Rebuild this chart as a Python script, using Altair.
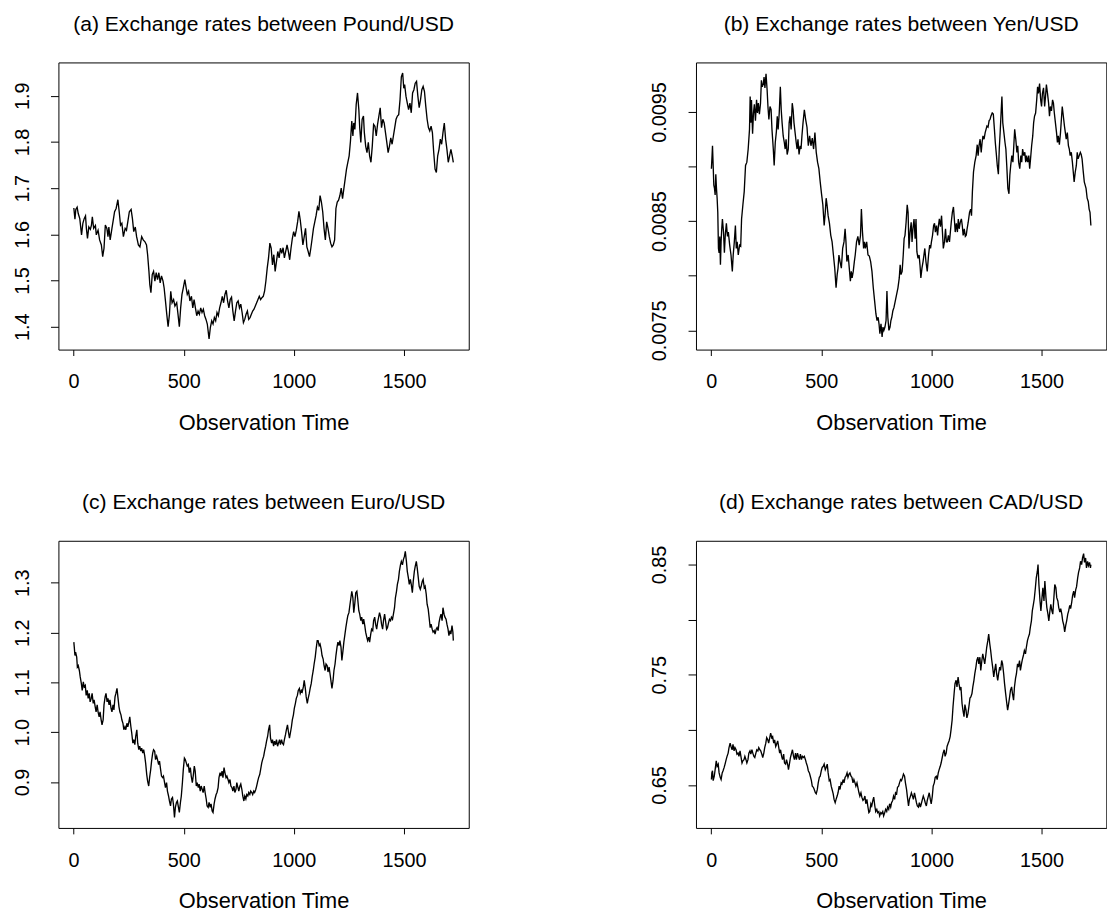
import altair as alt
import pandas as pd

# (observation time, exchange rate) pairs for each currency against the US dollar
POUND = [
    (1, 1.657), (6, 1.633), (10, 1.654), (16, 1.659), (21, 1.645), (28, 1.634), (36, 1.599), (42, 1.624),
    (48, 1.634), (54, 1.640), (58, 1.613), (63, 1.591), (69, 1.616), (76, 1.611), (81, 1.620), (85, 1.638),
    (91, 1.613), (99, 1.619), (103, 1.599), (111, 1.609), (118, 1.588), (126, 1.577), (132, 1.552), (138, 1.570),
    (144, 1.620), (151, 1.613), (156, 1.595), (160, 1.616), (166, 1.588), (174, 1.613), (180, 1.631), (186, 1.649),
    (193, 1.656), (201, 1.675), (207, 1.649), (213, 1.620), (219, 1.624), (226, 1.595), (234, 1.613), (240, 1.609),
    (246, 1.627), (253, 1.649), (261, 1.654), (267, 1.634), (273, 1.606), (280, 1.616), (286, 1.595), (294, 1.577),
    (301, 1.573), (309, 1.595), (316, 1.588), (324, 1.584), (331, 1.577), (336, 1.556), (342, 1.520), (346, 1.491),
    (351, 1.474), (357, 1.513), (363, 1.520), (369, 1.499), (375, 1.517), (381, 1.502), (387, 1.517), (393, 1.495),
    (399, 1.510), (406, 1.499), (411, 1.484), (417, 1.456), (423, 1.427), (429, 1.400), (435, 1.427), (441, 1.477),
    (447, 1.452), (454, 1.459), (460, 1.445), (468, 1.452), (474, 1.427), (480, 1.400), (486, 1.441), (492, 1.470),
    (498, 1.484), (505, 1.502), (511, 1.484), (516, 1.470), (522, 1.477), (528, 1.456), (535, 1.466), (541, 1.441),
    (547, 1.459), (553, 1.441), (559, 1.424), (565, 1.434), (571, 1.427), (577, 1.441), (583, 1.431), (589, 1.438),
    (595, 1.424), (601, 1.416), (607, 1.406), (615, 1.374), (621, 1.399), (627, 1.413), (633, 1.406), (639, 1.420),
    (645, 1.413), (651, 1.431), (657, 1.424), (663, 1.441), (669, 1.452), (675, 1.466), (681, 1.452), (687, 1.470),
    (693, 1.479), (699, 1.456), (705, 1.441), (711, 1.459), (717, 1.464), (723, 1.434), (729, 1.413), (735, 1.434),
    (741, 1.452), (747, 1.456), (753, 1.441), (759, 1.449), (765, 1.431), (771, 1.409), (777, 1.416), (783, 1.427),
    (789, 1.434), (795, 1.416), (801, 1.420), (807, 1.427), (813, 1.434), (819, 1.438), (825, 1.445), (831, 1.452),
    (837, 1.459), (843, 1.466), (849, 1.459), (855, 1.463), (861, 1.466), (867, 1.477), (873, 1.499), (879, 1.527),
    (885, 1.549), (891, 1.581), (897, 1.570), (903, 1.534), (909, 1.556), (915, 1.520), (921, 1.541), (927, 1.563),
    (933, 1.549), (939, 1.570), (945, 1.559), (951, 1.571), (957, 1.549), (963, 1.563), (969, 1.577), (975, 1.563),
    (981, 1.545), (987, 1.570), (993, 1.591), (999, 1.606), (1005, 1.595), (1011, 1.609), (1017, 1.627), (1023, 1.650),
    (1029, 1.631), (1035, 1.606), (1041, 1.577), (1047, 1.595), (1053, 1.613), (1059, 1.573), (1065, 1.563), (1071, 1.552),
    (1077, 1.570), (1083, 1.591), (1089, 1.613), (1095, 1.627), (1101, 1.641), (1107, 1.659), (1113, 1.652), (1119, 1.684),
    (1125, 1.670), (1131, 1.649), (1137, 1.613), (1143, 1.588), (1149, 1.627), (1155, 1.613), (1161, 1.595), (1167, 1.581),
    (1173, 1.573), (1179, 1.577), (1185, 1.588), (1191, 1.656), (1197, 1.670), (1203, 1.674), (1209, 1.684), (1215, 1.700),
    (1221, 1.677), (1227, 1.699), (1233, 1.720), (1239, 1.741), (1245, 1.756), (1251, 1.770), (1257, 1.802), (1263, 1.845),
    (1268, 1.813), (1272, 1.841), (1277, 1.827), (1283, 1.881), (1289, 1.906), (1295, 1.870), (1299, 1.831), (1304, 1.799),
    (1310, 1.849), (1316, 1.856), (1320, 1.820), (1326, 1.791), (1332, 1.777), (1338, 1.799), (1344, 1.770), (1350, 1.756),
    (1356, 1.791), (1362, 1.838), (1368, 1.834), (1374, 1.813), (1380, 1.838), (1386, 1.856), (1392, 1.874), (1398, 1.831),
    (1404, 1.849), (1410, 1.841), (1416, 1.820), (1422, 1.799), (1428, 1.777), (1434, 1.791), (1440, 1.809), (1446, 1.795),
    (1452, 1.813), (1458, 1.831), (1464, 1.849), (1470, 1.856), (1476, 1.859), (1482, 1.891), (1488, 1.941), (1494, 1.949),
    (1499, 1.916), (1503, 1.924), (1509, 1.899), (1515, 1.884), (1521, 1.870), (1527, 1.884), (1533, 1.863), (1539, 1.906),
    (1545, 1.913), (1551, 1.927), (1557, 1.931), (1563, 1.899), (1569, 1.874), (1575, 1.891), (1581, 1.913), (1587, 1.920),
    (1593, 1.909), (1599, 1.877), (1605, 1.849), (1611, 1.831), (1617, 1.824), (1623, 1.834), (1629, 1.820), (1635, 1.777),
    (1641, 1.741), (1647, 1.734), (1653, 1.770), (1659, 1.784), (1665, 1.806), (1671, 1.795), (1677, 1.820), (1683, 1.841),
    (1689, 1.806), (1695, 1.784), (1701, 1.756), (1707, 1.770), (1713, 1.784), (1719, 1.770), (1724, 1.756),
]

YEN = [
    (1, 0.00898), (4, 0.00910), (6, 0.00919), (9, 0.00901), (12, 0.00883), (15, 0.00880), (18, 0.00874), (21, 0.00893),
    (24, 0.00880), (27, 0.00871), (30, 0.00858), (33, 0.00825), (36, 0.00821), (39, 0.00836), (42, 0.00810), (45, 0.00831),
    (48, 0.00843), (51, 0.00852), (56, 0.00840), (60, 0.00821), (64, 0.00837), (69, 0.00848), (74, 0.00836), (78, 0.00840),
    (84, 0.00828), (90, 0.00819), (96, 0.00804), (100, 0.00819), (105, 0.00831), (110, 0.00846), (114, 0.00825), (118, 0.00831),
    (123, 0.00819), (129, 0.00828), (134, 0.00827), (138, 0.00852), (144, 0.00865), (150, 0.00877), (156, 0.00901), (162, 0.00904),
    (168, 0.00916), (174, 0.00934), (177, 0.00964), (180, 0.00940), (183, 0.00961), (188, 0.00930), (192, 0.00949), (196, 0.00957),
    (201, 0.00942), (206, 0.00961), (210, 0.00949), (214, 0.00958), (219, 0.00948), (224, 0.00958), (228, 0.00979), (232, 0.00973),
    (237, 0.00976), (240, 0.00982), (244, 0.00972), (249, 0.00985), (254, 0.00970), (258, 0.00954), (262, 0.00943), (267, 0.00955),
    (272, 0.00952), (276, 0.00934), (282, 0.00916), (286, 0.00901), (291, 0.00922), (296, 0.00932), (300, 0.00946), (304, 0.00934),
    (309, 0.00949), (314, 0.00973), (318, 0.00952), (322, 0.00940), (327, 0.00928), (332, 0.00922), (336, 0.00916), (340, 0.00925),
    (345, 0.00911), (350, 0.00916), (354, 0.00940), (358, 0.00946), (363, 0.00934), (368, 0.00958), (372, 0.00952), (376, 0.00940),
    (381, 0.00931), (386, 0.00922), (390, 0.00916), (394, 0.00925), (399, 0.00911), (404, 0.00919), (408, 0.00916), (412, 0.00928),
    (417, 0.00940), (423, 0.00952), (429, 0.00943), (435, 0.00936), (441, 0.00919), (447, 0.00928), (453, 0.00919), (459, 0.00926),
    (465, 0.00916), (471, 0.00931), (477, 0.00913), (483, 0.00904), (489, 0.00898), (495, 0.00886), (501, 0.00875), (507, 0.00865),
    (513, 0.00846), (518, 0.00858), (522, 0.00871), (526, 0.00865), (531, 0.00855), (537, 0.00848), (543, 0.00837), (549, 0.00831),
    (555, 0.00819), (561, 0.00807), (567, 0.00789), (572, 0.00801), (576, 0.00807), (580, 0.00819), (585, 0.00813), (591, 0.00807),
    (597, 0.00825), (603, 0.00831), (608, 0.00843), (612, 0.00831), (616, 0.00813), (622, 0.00819), (627, 0.00807), (632, 0.00795),
    (636, 0.00804), (640, 0.00798), (645, 0.00804), (650, 0.00813), (654, 0.00819), (660, 0.00831), (666, 0.00836), (672, 0.00828),
    (678, 0.00837), (682, 0.00861), (687, 0.00840), (692, 0.00825), (696, 0.00831), (700, 0.00825), (706, 0.00831), (712, 0.00819),
    (718, 0.00818), (724, 0.00813), (730, 0.00804), (736, 0.00789), (742, 0.00777), (748, 0.00765), (753, 0.00759), (758, 0.00762),
    (762, 0.00756), (766, 0.00747), (771, 0.00756), (776, 0.00744), (780, 0.00753), (784, 0.00750), (789, 0.00753), (794, 0.00759),
    (798, 0.00786), (802, 0.00762), (807, 0.00750), (812, 0.00753), (816, 0.00759), (820, 0.00762), (825, 0.00768), (830, 0.00771),
    (836, 0.00777), (842, 0.00783), (848, 0.00789), (854, 0.00798), (858, 0.00810), (862, 0.00801), (867, 0.00804), (872, 0.00819),
    (876, 0.00834), (880, 0.00837), (885, 0.00849), (890, 0.00865), (894, 0.00858), (898, 0.00825), (903, 0.00840), (908, 0.00849),
    (912, 0.00831), (916, 0.00843), (921, 0.00852), (926, 0.00834), (930, 0.00852), (934, 0.00822), (939, 0.00816), (944, 0.00819),
    (948, 0.00810), (952, 0.00798), (957, 0.00807), (962, 0.00813), (966, 0.00819), (970, 0.00825), (975, 0.00813), (981, 0.00804),
    (987, 0.00819), (992, 0.00828), (996, 0.00825), (1000, 0.00831), (1005, 0.00837), (1010, 0.00846), (1014, 0.00848), (1018, 0.00840),
    (1023, 0.00846), (1028, 0.00837), (1032, 0.00846), (1036, 0.00852), (1041, 0.00845), (1046, 0.00855), (1050, 0.00840), (1054, 0.00825),
    (1059, 0.00831), (1064, 0.00843), (1068, 0.00831), (1072, 0.00831), (1077, 0.00837), (1082, 0.00831), (1086, 0.00840), (1090, 0.00849),
    (1095, 0.00858), (1100, 0.00863), (1104, 0.00852), (1108, 0.00840), (1113, 0.00848), (1118, 0.00840), (1122, 0.00852), (1126, 0.00843),
    (1131, 0.00849), (1136, 0.00852), (1140, 0.00846), (1144, 0.00837), (1149, 0.00843), (1154, 0.00836), (1158, 0.00837), (1162, 0.00843),
    (1167, 0.00849), (1173, 0.00858), (1178, 0.00861), (1182, 0.00855), (1186, 0.00877), (1191, 0.00895), (1197, 0.00904), (1203, 0.00910),
    (1208, 0.00920), (1212, 0.00910), (1216, 0.00919), (1221, 0.00925), (1226, 0.00913), (1230, 0.00922), (1234, 0.00928), (1239, 0.00925),
    (1244, 0.00931), (1248, 0.00934), (1252, 0.00937), (1257, 0.00936), (1262, 0.00942), (1266, 0.00943), (1270, 0.00946), (1276, 0.00949),
    (1281, 0.00948), (1286, 0.00934), (1290, 0.00922), (1294, 0.00913), (1299, 0.00901), (1304, 0.00893), (1308, 0.00916), (1312, 0.00931),
    (1317, 0.00952), (1320, 0.00964), (1324, 0.00940), (1329, 0.00931), (1334, 0.00922), (1338, 0.00916), (1342, 0.00901), (1347, 0.00880),
    (1352, 0.00875), (1356, 0.00892), (1360, 0.00901), (1365, 0.00910), (1370, 0.00904), (1374, 0.00919), (1378, 0.00934), (1383, 0.00925),
    (1388, 0.00913), (1392, 0.00919), (1396, 0.00904), (1401, 0.00898), (1406, 0.00910), (1410, 0.00904), (1414, 0.00916), (1419, 0.00910),
    (1424, 0.00913), (1428, 0.00904), (1432, 0.00910), (1437, 0.00904), (1442, 0.00910), (1446, 0.00898), (1450, 0.00907), (1455, 0.00919),
    (1460, 0.00928), (1464, 0.00940), (1468, 0.00946), (1473, 0.00949), (1478, 0.00961), (1482, 0.00973), (1486, 0.00967), (1491, 0.00976),
    (1496, 0.00961), (1500, 0.00955), (1504, 0.00967), (1509, 0.00972), (1514, 0.00955), (1518, 0.00964), (1522, 0.00975), (1527, 0.00967),
    (1532, 0.00958), (1536, 0.00946), (1540, 0.00955), (1545, 0.00951), (1550, 0.00961), (1554, 0.00958), (1558, 0.00949), (1563, 0.00940),
    (1568, 0.00931), (1572, 0.00922), (1576, 0.00928), (1581, 0.00920), (1586, 0.00931), (1590, 0.00943), (1594, 0.00955), (1599, 0.00946),
    (1604, 0.00937), (1608, 0.00931), (1612, 0.00925), (1617, 0.00931), (1622, 0.00919), (1626, 0.00916), (1630, 0.00910), (1635, 0.00913),
    (1640, 0.00904), (1644, 0.00895), (1648, 0.00886), (1653, 0.00895), (1658, 0.00901), (1662, 0.00913), (1666, 0.00907), (1671, 0.00910),
    (1676, 0.00913), (1680, 0.00911), (1684, 0.00907), (1689, 0.00896), (1694, 0.00886), (1698, 0.00883), (1702, 0.00880), (1707, 0.00871),
    (1712, 0.00868), (1716, 0.00861), (1720, 0.00858), (1724, 0.00846),
]

EURO = [
    (1, 1.181), (3, 1.171), (6, 1.154), (9, 1.161), (14, 1.151), (17, 1.131), (21, 1.134), (26, 1.124),
    (30, 1.111), (35, 1.098), (39, 1.084), (44, 1.101), (48, 1.091), (53, 1.094), (57, 1.074), (62, 1.084),
    (66, 1.068), (71, 1.078), (75, 1.061), (80, 1.068), (84, 1.078), (89, 1.058), (93, 1.065), (98, 1.051),
    (102, 1.041), (107, 1.055), (111, 1.041), (116, 1.031), (120, 1.041), (125, 1.025), (129, 1.015), (134, 1.025),
    (138, 1.055), (143, 1.071), (147, 1.078), (152, 1.061), (156, 1.068), (161, 1.055), (165, 1.065), (170, 1.048),
    (174, 1.041), (179, 1.055), (183, 1.045), (188, 1.071), (192, 1.078), (197, 1.088), (201, 1.071), (206, 1.051),
    (210, 1.041), (215, 1.035), (219, 1.025), (224, 1.018), (228, 1.005), (233, 1.011), (237, 1.005), (242, 1.018),
    (246, 1.011), (251, 1.021), (255, 1.031), (260, 1.011), (264, 0.998), (269, 0.978), (273, 0.985), (278, 0.975),
    (282, 0.992), (287, 1.005), (291, 0.978), (296, 0.965), (300, 0.972), (305, 0.962), (309, 0.968), (314, 0.958),
    (318, 0.965), (323, 0.952), (327, 0.938), (332, 0.915), (336, 0.902), (341, 0.892), (345, 0.909), (350, 0.925),
    (354, 0.942), (359, 0.958), (363, 0.965), (368, 0.962), (372, 0.945), (377, 0.952), (381, 0.945), (386, 0.935),
    (390, 0.942), (395, 0.925), (399, 0.912), (404, 0.909), (408, 0.912), (413, 0.899), (417, 0.889), (422, 0.899),
    (426, 0.882), (431, 0.872), (435, 0.862), (440, 0.852), (444, 0.866), (449, 0.869), (453, 0.856), (458, 0.829),
    (462, 0.849), (467, 0.859), (471, 0.862), (476, 0.849), (480, 0.839), (485, 0.859), (489, 0.872), (494, 0.899),
    (498, 0.925), (503, 0.948), (507, 0.945), (512, 0.938), (516, 0.932), (521, 0.935), (525, 0.919), (530, 0.929),
    (534, 0.912), (539, 0.899), (543, 0.912), (548, 0.932), (552, 0.922), (557, 0.892), (561, 0.899), (566, 0.889),
    (570, 0.896), (575, 0.882), (579, 0.892), (584, 0.885), (588, 0.879), (593, 0.892), (597, 0.879), (602, 0.866),
    (606, 0.852), (611, 0.849), (615, 0.859), (620, 0.849), (624, 0.856), (629, 0.842), (633, 0.839), (638, 0.856),
    (642, 0.866), (647, 0.875), (651, 0.879), (656, 0.889), (660, 0.909), (665, 0.919), (669, 0.912), (674, 0.922),
    (678, 0.909), (683, 0.929), (687, 0.919), (692, 0.909), (696, 0.912), (701, 0.905), (705, 0.899), (710, 0.905),
    (714, 0.892), (719, 0.889), (723, 0.882), (728, 0.892), (732, 0.879), (737, 0.885), (741, 0.899), (746, 0.889),
    (750, 0.882), (755, 0.892), (759, 0.896), (764, 0.885), (768, 0.872), (773, 0.862), (777, 0.872), (782, 0.866),
    (786, 0.875), (791, 0.872), (795, 0.879), (800, 0.875), (804, 0.882), (809, 0.879), (813, 0.875), (818, 0.882),
    (822, 0.879), (827, 0.885), (831, 0.892), (836, 0.902), (840, 0.909), (845, 0.915), (849, 0.925), (854, 0.938),
    (858, 0.945), (863, 0.952), (867, 0.962), (872, 0.972), (876, 0.982), (881, 0.992), (885, 1.005), (890, 1.015),
    (894, 0.988), (899, 0.978), (903, 0.985), (908, 0.972), (912, 0.982), (917, 0.975), (921, 0.985), (926, 0.972),
    (930, 0.978), (935, 0.985), (939, 0.975), (944, 0.985), (948, 0.978), (953, 0.975), (957, 0.985), (962, 0.995),
    (966, 1.005), (971, 1.015), (975, 1.002), (980, 0.988), (984, 0.998), (989, 1.011), (993, 1.025), (998, 1.035),
    (1002, 1.048), (1007, 1.058), (1011, 1.068), (1016, 1.074), (1020, 1.084), (1025, 1.088), (1029, 1.078), (1034, 1.084),
    (1038, 1.081), (1043, 1.091), (1047, 1.104), (1052, 1.088), (1056, 1.071), (1061, 1.058), (1065, 1.068), (1070, 1.078),
    (1074, 1.088), (1079, 1.098), (1083, 1.111), (1088, 1.124), (1092, 1.137), (1097, 1.151), (1101, 1.167), (1106, 1.184),
    (1110, 1.184), (1115, 1.174), (1119, 1.177), (1124, 1.167), (1128, 1.154), (1133, 1.147), (1137, 1.134), (1142, 1.124),
    (1146, 1.137), (1151, 1.134), (1155, 1.121), (1160, 1.131), (1164, 1.118), (1169, 1.101), (1173, 1.088), (1178, 1.104),
    (1182, 1.124), (1187, 1.137), (1191, 1.154), (1196, 1.171), (1200, 1.181), (1205, 1.174), (1209, 1.184), (1214, 1.171),
    (1218, 1.144), (1223, 1.164), (1227, 1.181), (1232, 1.197), (1236, 1.210), (1241, 1.224), (1245, 1.234), (1250, 1.240),
    (1254, 1.254), (1259, 1.270), (1263, 1.283), (1268, 1.270), (1272, 1.240), (1277, 1.260), (1281, 1.280), (1286, 1.283),
    (1290, 1.267), (1295, 1.244), (1299, 1.237), (1304, 1.224), (1308, 1.231), (1313, 1.217), (1317, 1.227), (1322, 1.214),
    (1326, 1.201), (1331, 1.191), (1335, 1.184), (1340, 1.191), (1344, 1.181), (1349, 1.197), (1353, 1.207), (1358, 1.204),
    (1362, 1.224), (1367, 1.231), (1371, 1.217), (1376, 1.207), (1380, 1.220), (1385, 1.231), (1389, 1.240), (1394, 1.231),
    (1398, 1.217), (1403, 1.207), (1407, 1.224), (1412, 1.237), (1416, 1.224), (1421, 1.207), (1425, 1.210), (1430, 1.220),
    (1434, 1.227), (1439, 1.224), (1443, 1.231), (1448, 1.227), (1452, 1.237), (1457, 1.250), (1461, 1.270), (1466, 1.283),
    (1470, 1.297), (1475, 1.307), (1479, 1.323), (1484, 1.336), (1488, 1.343), (1493, 1.336), (1497, 1.346), (1502, 1.353),
    (1506, 1.363), (1511, 1.343), (1515, 1.323), (1520, 1.310), (1524, 1.297), (1529, 1.307), (1533, 1.297), (1538, 1.280),
    (1542, 1.303), (1547, 1.323), (1551, 1.333), (1556, 1.343), (1560, 1.330), (1565, 1.310), (1569, 1.293), (1574, 1.287),
    (1578, 1.293), (1583, 1.303), (1587, 1.307), (1592, 1.290), (1596, 1.293), (1601, 1.277), (1605, 1.257), (1610, 1.247),
    (1614, 1.231), (1619, 1.210), (1623, 1.217), (1628, 1.207), (1632, 1.201), (1637, 1.204), (1641, 1.197), (1646, 1.207),
    (1650, 1.210), (1655, 1.204), (1659, 1.220), (1664, 1.231), (1668, 1.237), (1673, 1.224), (1677, 1.250), (1682, 1.237),
    (1686, 1.231), (1691, 1.227), (1695, 1.217), (1700, 1.207), (1704, 1.194), (1709, 1.204), (1713, 1.197), (1718, 1.214),
    (1722, 1.201), (1724, 1.184),
]

CAD = [
    (1, 0.655), (3, 0.661), (6, 0.663), (9, 0.654), (14, 0.658), (18, 0.664), (23, 0.672), (27, 0.667),
    (32, 0.669), (36, 0.661), (41, 0.657), (45, 0.655), (50, 0.661), (54, 0.663), (59, 0.666), (63, 0.669),
    (68, 0.673), (72, 0.676), (77, 0.679), (81, 0.684), (86, 0.688), (90, 0.685), (95, 0.682), (99, 0.687),
    (104, 0.681), (108, 0.684), (113, 0.682), (117, 0.678), (122, 0.679), (126, 0.676), (131, 0.681), (135, 0.676),
    (140, 0.670), (144, 0.672), (149, 0.673), (153, 0.676), (158, 0.673), (162, 0.670), (167, 0.673), (171, 0.679),
    (176, 0.681), (180, 0.678), (185, 0.682), (189, 0.679), (194, 0.676), (198, 0.675), (203, 0.679), (207, 0.682),
    (212, 0.681), (216, 0.684), (221, 0.682), (225, 0.681), (230, 0.678), (234, 0.675), (239, 0.679), (243, 0.684),
    (248, 0.688), (252, 0.693), (257, 0.691), (261, 0.688), (266, 0.693), (270, 0.697), (275, 0.693), (279, 0.694),
    (284, 0.688), (288, 0.691), (293, 0.685), (297, 0.687), (302, 0.690), (306, 0.685), (311, 0.679), (315, 0.682),
    (320, 0.676), (324, 0.673), (329, 0.678), (333, 0.670), (338, 0.669), (342, 0.673), (347, 0.669), (351, 0.664),
    (356, 0.670), (360, 0.675), (365, 0.679), (369, 0.682), (374, 0.676), (378, 0.673), (383, 0.679), (387, 0.673),
    (392, 0.679), (396, 0.676), (401, 0.673), (405, 0.678), (410, 0.673), (414, 0.676), (419, 0.675), (423, 0.676),
    (428, 0.673), (432, 0.670), (437, 0.667), (441, 0.663), (446, 0.661), (450, 0.658), (455, 0.654), (459, 0.649),
    (464, 0.648), (468, 0.646), (473, 0.643), (477, 0.642), (482, 0.646), (486, 0.652), (491, 0.657), (495, 0.658),
    (500, 0.663), (504, 0.666), (509, 0.667), (513, 0.669), (518, 0.664), (522, 0.666), (527, 0.669), (531, 0.661),
    (536, 0.654), (540, 0.655), (545, 0.649), (549, 0.646), (554, 0.642), (558, 0.637), (563, 0.634), (567, 0.637),
    (572, 0.640), (576, 0.643), (581, 0.649), (585, 0.646), (590, 0.652), (594, 0.651), (599, 0.655), (603, 0.652),
    (608, 0.657), (612, 0.658), (617, 0.661), (621, 0.657), (626, 0.660), (630, 0.661), (635, 0.658), (639, 0.657),
    (644, 0.652), (648, 0.655), (653, 0.652), (657, 0.649), (662, 0.652), (666, 0.648), (671, 0.643), (675, 0.640),
    (680, 0.643), (684, 0.639), (689, 0.636), (693, 0.637), (698, 0.640), (702, 0.633), (707, 0.637), (711, 0.631),
    (716, 0.625), (720, 0.626), (725, 0.633), (729, 0.631), (734, 0.636), (738, 0.639), (743, 0.631), (747, 0.626),
    (752, 0.628), (756, 0.625), (761, 0.626), (765, 0.622), (770, 0.625), (774, 0.624), (779, 0.626), (783, 0.622),
    (788, 0.625), (792, 0.628), (797, 0.626), (801, 0.630), (806, 0.628), (810, 0.633), (815, 0.630), (819, 0.634),
    (824, 0.636), (828, 0.640), (833, 0.637), (837, 0.643), (842, 0.642), (846, 0.648), (851, 0.649), (855, 0.652),
    (860, 0.655), (864, 0.654), (869, 0.657), (873, 0.660), (878, 0.658), (882, 0.652), (887, 0.646), (891, 0.639),
    (896, 0.631), (900, 0.637), (905, 0.640), (909, 0.643), (914, 0.640), (918, 0.637), (923, 0.643), (927, 0.639),
    (932, 0.634), (936, 0.631), (941, 0.630), (945, 0.634), (950, 0.630), (954, 0.633), (959, 0.637), (963, 0.640),
    (968, 0.637), (972, 0.634), (977, 0.631), (981, 0.636), (986, 0.640), (990, 0.643), (995, 0.637), (999, 0.633),
    (1004, 0.640), (1008, 0.649), (1013, 0.652), (1017, 0.657), (1022, 0.658), (1026, 0.655), (1031, 0.661), (1035, 0.664),
    (1040, 0.667), (1044, 0.670), (1049, 0.675), (1053, 0.679), (1058, 0.682), (1062, 0.676), (1067, 0.679), (1071, 0.685),
    (1076, 0.688), (1080, 0.690), (1085, 0.694), (1089, 0.700), (1094, 0.709), (1098, 0.721), (1103, 0.733), (1107, 0.742),
    (1112, 0.745), (1116, 0.739), (1121, 0.748), (1125, 0.742), (1130, 0.736), (1134, 0.739), (1139, 0.724), (1143, 0.718),
    (1148, 0.712), (1152, 0.723), (1157, 0.718), (1161, 0.711), (1166, 0.715), (1170, 0.721), (1175, 0.729), (1179, 0.730),
    (1184, 0.733), (1188, 0.739), (1193, 0.745), (1197, 0.751), (1202, 0.757), (1206, 0.763), (1211, 0.766), (1215, 0.760),
    (1220, 0.766), (1224, 0.754), (1229, 0.763), (1233, 0.769), (1238, 0.764), (1242, 0.760), (1247, 0.768), (1251, 0.775),
    (1256, 0.781), (1260, 0.787), (1265, 0.778), (1269, 0.772), (1274, 0.763), (1278, 0.757), (1283, 0.748), (1287, 0.754),
    (1292, 0.760), (1296, 0.751), (1301, 0.745), (1305, 0.751), (1310, 0.757), (1314, 0.754), (1319, 0.763), (1323, 0.760),
    (1328, 0.751), (1332, 0.742), (1337, 0.733), (1341, 0.726), (1346, 0.718), (1350, 0.723), (1355, 0.730), (1359, 0.736),
    (1364, 0.739), (1368, 0.733), (1373, 0.727), (1377, 0.739), (1382, 0.747), (1386, 0.751), (1391, 0.760), (1395, 0.757),
    (1400, 0.763), (1404, 0.754), (1409, 0.760), (1413, 0.764), (1418, 0.768), (1422, 0.772), (1427, 0.769), (1431, 0.775),
    (1436, 0.781), (1440, 0.784), (1445, 0.787), (1449, 0.793), (1454, 0.799), (1458, 0.808), (1463, 0.814), (1467, 0.819),
    (1472, 0.829), (1476, 0.838), (1481, 0.844), (1484, 0.850), (1488, 0.832), (1493, 0.817), (1497, 0.808), (1502, 0.820),
    (1506, 0.829), (1511, 0.817), (1515, 0.835), (1520, 0.820), (1524, 0.811), (1529, 0.805), (1533, 0.799), (1538, 0.808),
    (1542, 0.814), (1547, 0.808), (1551, 0.805), (1556, 0.820), (1560, 0.832), (1565, 0.829), (1569, 0.820), (1574, 0.817),
    (1578, 0.811), (1583, 0.807), (1587, 0.810), (1592, 0.805), (1596, 0.799), (1601, 0.795), (1605, 0.789), (1610, 0.795),
    (1614, 0.799), (1619, 0.805), (1623, 0.808), (1628, 0.813), (1632, 0.810), (1637, 0.816), (1641, 0.822), (1646, 0.826),
    (1650, 0.820), (1655, 0.827), (1659, 0.830), (1664, 0.838), (1668, 0.843), (1673, 0.847), (1677, 0.853), (1682, 0.850),
    (1686, 0.856), (1691, 0.860), (1695, 0.852), (1700, 0.856), (1704, 0.847), (1709, 0.853), (1713, 0.849), (1718, 0.852),
    (1722, 0.847), (1724, 0.850),
]

TITLES = [
    "(a) Exchange rates between Pound/USD",
    "(b) Exchange rates between Yen/USD",
    "(c) Exchange rates between Euro/USD",
    "(d) Exchange rates between CAD/USD",
]
X_TITLE = "Observation Time"
X_TICKS = [0, 500, 1000, 1500]
X_DOMAIN = [-69, 1794]

POUND_TICKS = [1.4, 1.5, 1.6, 1.7, 1.8, 1.9]
YEN_TICKS = [0.0075, 0.0080, 0.0085, 0.0090, 0.0095]
EURO_TICKS = [0.9, 1.0, 1.1, 1.2, 1.3]
CAD_TICKS = [0.65, 0.70, 0.75, 0.80, 0.85]

POUND_DOMAIN = [1.3507, 1.9720]
YEN_DOMAIN = [0.007324, 0.009953]
EURO_DOMAIN = [0.8079, 1.3844]
CAD_DOMAIN = [0.6111, 0.8716]

FONT = "Liberation Sans"
PANEL_W = 414.4
PANEL_H = 290


def panel(rows, title, y_domain, y_ticks, label_expr):
    df = pd.DataFrame(rows, columns=["time", "rate"])
    return (
        alt.Chart(
            df,
            title=alt.Title(
                title, font=FONT, fontSize=21.3, fontWeight="normal", color="black",
                anchor="middle", frame="group", baseline="alphabetic", offset=10.4,
            ),
        )
        .mark_line(color="black", strokeWidth=1.35)
        .encode(
            x=alt.X(
                "time:Q",
                scale=alt.Scale(domain=X_DOMAIN, nice=False, zero=False),
                axis=alt.Axis(values=X_TICKS, title=X_TITLE, format="d"),
            ),
            y=alt.Y(
                "rate:Q",
                scale=alt.Scale(domain=y_domain, nice=False, zero=False),
                axis=alt.Axis(values=y_ticks, title=None, labelExpr=label_expr),
            ),
        )
        .properties(width=PANEL_W, height=PANEL_H)
    )


one_decimal = "format(datum.value, '.1f')"
every_other_4 = "round(datum.value * 10000) % 2 == 1 ? format(datum.value, '.4f') : ''"
every_other_2 = "round(datum.value * 100) % 2 == 1 ? format(datum.value, '.2f') : ''"

pa = panel(POUND, TITLES[0], POUND_DOMAIN, POUND_TICKS, one_decimal)
pb = panel(YEN, TITLES[1], YEN_DOMAIN, YEN_TICKS, every_other_4)
pc = panel(EURO, TITLES[2], EURO_DOMAIN, EURO_TICKS, one_decimal)
pd_ = panel(CAD, TITLES[3], CAD_DOMAIN, CAD_TICKS, every_other_2)

chart = (
    alt.concat(pa, pb, pc, pd_, columns=2, spacing={"row": 193.1, "column": 228.9}, bounds="flush")
    .properties(padding={"left": 12, "top": 8.5, "right": 0, "bottom": 0}, background="white")
    .configure_view(stroke="black", strokeWidth=1)
    .configure_axisX(
        domain=False, grid=False, ticks=True, tickColor="black", tickSize=6, tickWidth=1,
        labelFont=FONT, labelFontSize=20, labelColor="black", labelBaseline="alphabetic",
        labelPadding=32.6, labelFlush=False, labelOverlap=False,
        titleFont=FONT, titleFontSize=22, titleFontWeight="normal", titleColor="black",
        titleBaseline="alphabetic", titleY=80.5,
    )
    .configure_axisY(
        domain=False, grid=False, ticks=True, tickColor="black", tickSize=8, tickWidth=1,
        labelFont=FONT, labelFontSize=20, labelColor="black", labelAngle=270,
        labelAlign="center", labelBaseline="alphabetic", labelPadding=22.3,
        labelFlush=False, labelOverlap=False,
    )
)

chart.save("out.html", embed_options={"renderer": "svg", "actions": False})
